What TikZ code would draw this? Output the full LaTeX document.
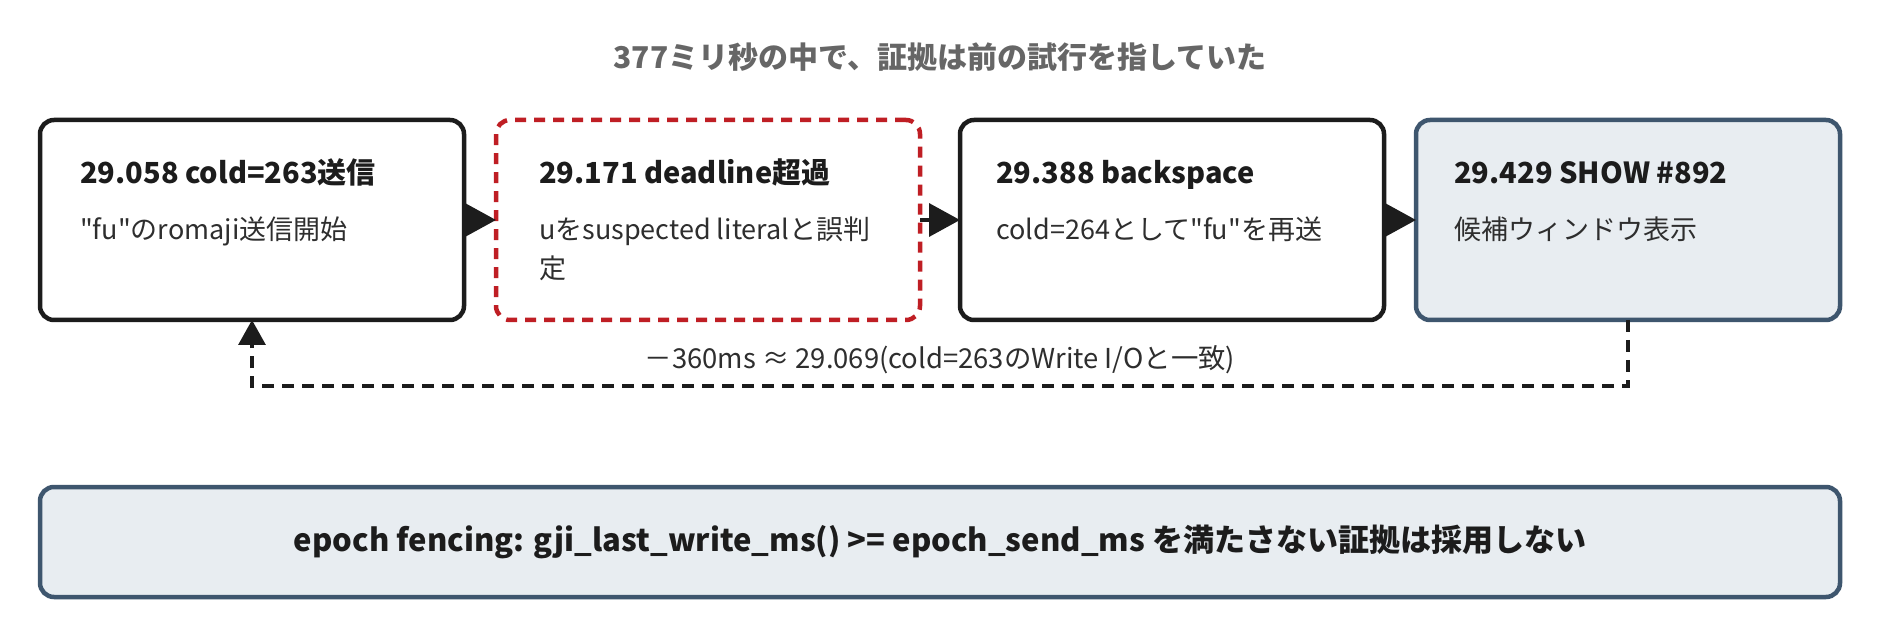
\documentclass[tikz,border=0pt]{standalone}
\usepackage{fontspec}
\setmainfont{Noto Sans CJK JP}[Ligatures=TeXOff]
\usetikzlibrary{arrows.meta}
\definecolor{ink}{HTML}{1C1C1C}
\definecolor{subink}{HTML}{2E2E2E}
\definecolor{hdr}{HTML}{666666}
\definecolor{warn}{HTML}{BF1E24}
\definecolor{slate}{HTML}{3E566E}
\definecolor{slatefill}{HTML}{E8EDF1}
\tikzset{
  evbox/.style={draw=ink, line width=4.5pt, fill=white, rounded corners=14pt,
    minimum width=424pt, minimum height=200pt, inner sep=0pt, outer sep=0pt},
  warnbox/.style={evbox, draw=warn, dash pattern=on 11pt off 8pt},
  showbox/.style={evbox, draw=slate, fill=slatefill},
  ttl/.style={anchor=base west, inner sep=0pt, text=ink,
    font=\fontsize{29}{34}\selectfont\bfseries},
  sub/.style={anchor=base west, inner sep=0pt, text=subink,
    font=\fontsize{27}{38.5}\selectfont},
  conn/.style={draw=ink, line width=3.5pt, -{Triangle[length=31pt,width=33pt]}},
  fb/.style={draw=ink, line width=3.3pt, dash pattern=on 12pt off 8pt,
    -{Triangle[length=25pt,width=27pt]}},
}
\begin{document}
\begin{tikzpicture}[x=1pt,y=-1pt]
\useasboundingbox[fill=white] (0,0) rectangle (1880,636);
\node[anchor=center, text=hdr, font=\fontsize{30}{34}\selectfont\bfseries] (head) at (940,57) {377ミリ秒の中で、証拠は前の試行を指していた};

\node[evbox] (b1) at (252,220) {};
\node[warnbox] (b2) at (708,220) {};
\node[evbox] (b3) at (1172,220) {};
\node[showbox] (b4) at (1628,220) {};

\node[ttl] (t1) at (80,184) {29.058 cold=263送信};
\node[sub] (s1) at (80,240) {"fu"のromaji送信開始};
\node[ttl] (t2) at (539,184) {29.171 deadline超過};
\node[sub] (s2) at (539,240) {\vtop{\baselineskip=38.5pt\hbox{uをsuspected literalと誤判}\hbox{定}}};
\node[ttl] (t3) at (996,184) {29.388 backspace};
\node[sub] (s3) at (996,240) {cold=264として"fu"を再送};
\node[ttl] (t4) at (1454,184) {29.429 SHOW \#892};
\node[sub] (s4) at (1454,240) {候補ウィンドウ表示};

\draw[conn] (b1.east) -- (b2.west);
\draw[conn] (b2.east) -- (b3.west);
\draw[conn] (b3.east) -- (b4.west);

\draw[fb] (b4.south) -- ++(0,66) -| (b1.south);
\node[anchor=center, text=subink, font=\fontsize{27.4}{30}\selectfont] (lbl) at (940,360) {－360ms ≈ 29.069(cold=263のWrite I/Oと一致)};

\node[draw=slate, line width=4.5pt, fill=slatefill, rounded corners=14pt,
  minimum width=1800pt, minimum height=110pt, inner sep=0pt, outer sep=0pt,
  text=ink, font=\fontsize{31}{34}\selectfont\bfseries] (fence) at (940,542)
  {epoch fencing: gji\_last\_write\_ms() >= epoch\_send\_ms を満たさない証拠は採用しない};
\end{tikzpicture}
\end{document}
